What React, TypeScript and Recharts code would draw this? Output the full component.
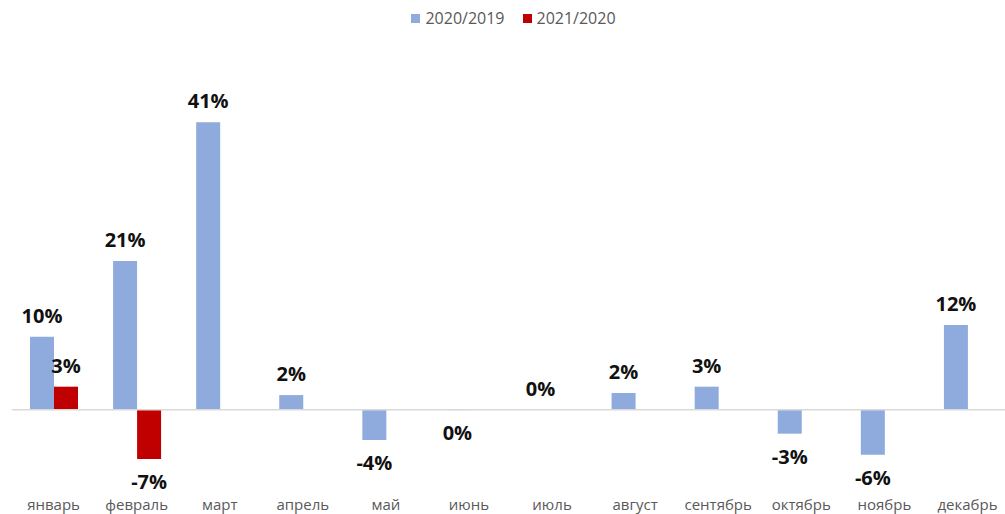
import React from 'react';
import { BarChart, Bar, XAxis, YAxis, ReferenceLine, LabelList } from 'recharts';

const months = ['январь', 'февраль', 'март', 'апрель', 'май', 'июнь', 'июль', 'август', 'сентябрь', 'октябрь', 'ноябрь', 'декабрь'];
const series2020 = [10.4, 21.2, 41.0, 2.1, -4.3, -0.04, 0.04, 2.4, 3.3, -3.4, -6.4, 12.1];
const series2021: (number | null)[] = [3.3, -7.0, null, null, null, null, null, null, null, null, null, null];
const seriesNames = ['2020/2019', '2021/2020'];
const colors = ['#8FAADC', '#C00000'];

const data = months.map((m, i) => ({ month: m, a: series2020[i], b: series2021[i] }));

const FONT = '"Open Sans", Carlito, Calibri, sans-serif';

const ValueLabel = (props: any) => {
  const { x, y, width, height, value } = props;
  if (value === null || value === undefined) return null;
  const top = Math.min(y, y + height);
  const bottom = Math.max(y, y + height);
  const cx = x + width / 2;
  const ty = value >= 0 ? top - 14 : bottom + 30;
  const r = Math.round(value);
  const txt = `${r === 0 ? 0 : r}%`;
  return (
    <text x={cx} y={ty} textAnchor="middle" fontFamily={FONT} fontSize={20} fontWeight={700} fill="#111">
      {txt}
    </text>
  );
};

const LegendBox = () => (
  <div style={{ position: 'absolute', top: 7, left: 0, width: 1005, display: 'flex', justifyContent: 'center', fontFamily: FONT, fontSize: 16, lineHeight: '22px', color: '#595959', paddingLeft: 22, boxSizing: 'border-box' }}>
    {seriesNames.map((n, i) => (
      <div key={n} style={{ display: 'flex', alignItems: 'center', marginRight: i === 0 ? 18 : 0 }}>
        <span style={{ display: 'inline-block', width: 9, height: 9, background: colors[i], marginRight: 5 }} />
        <span>{n}</span>
      </div>
    ))}
  </div>
);

export default function App() {
  return (
    <div style={{ position: 'absolute', left: 0, top: 0, width: 1005, height: 514, background: '#fff', overflow: 'hidden' }}>
      <BarChart width={1005} height={514} data={data} margin={{ top: 59, right: -4, bottom: 0, left: 12 }} barGap={0} barSize={24} style={{ overflow: 'visible' }}>
        <XAxis dataKey="month" axisLine={false} tickLine={false} height={34} tickMargin={13} interval={0}
          tick={{ fontFamily: FONT, fontSize: 15, fill: '#595959' }} />
        <YAxis hide domain={[-10, 50]} />
        <ReferenceLine y={0} stroke="#D9D9D9" strokeWidth={1.5} />
        <Bar dataKey="a" name={seriesNames[0]} fill={colors[0]} isAnimationActive={false}>
          <LabelList dataKey="a" content={<ValueLabel />} />
        </Bar>
        <Bar dataKey="b" name={seriesNames[1]} fill={colors[1]} isAnimationActive={false}>
          <LabelList dataKey="b" content={<ValueLabel />} />
        </Bar>
      </BarChart>
      <LegendBox />
    </div>
  );
}
